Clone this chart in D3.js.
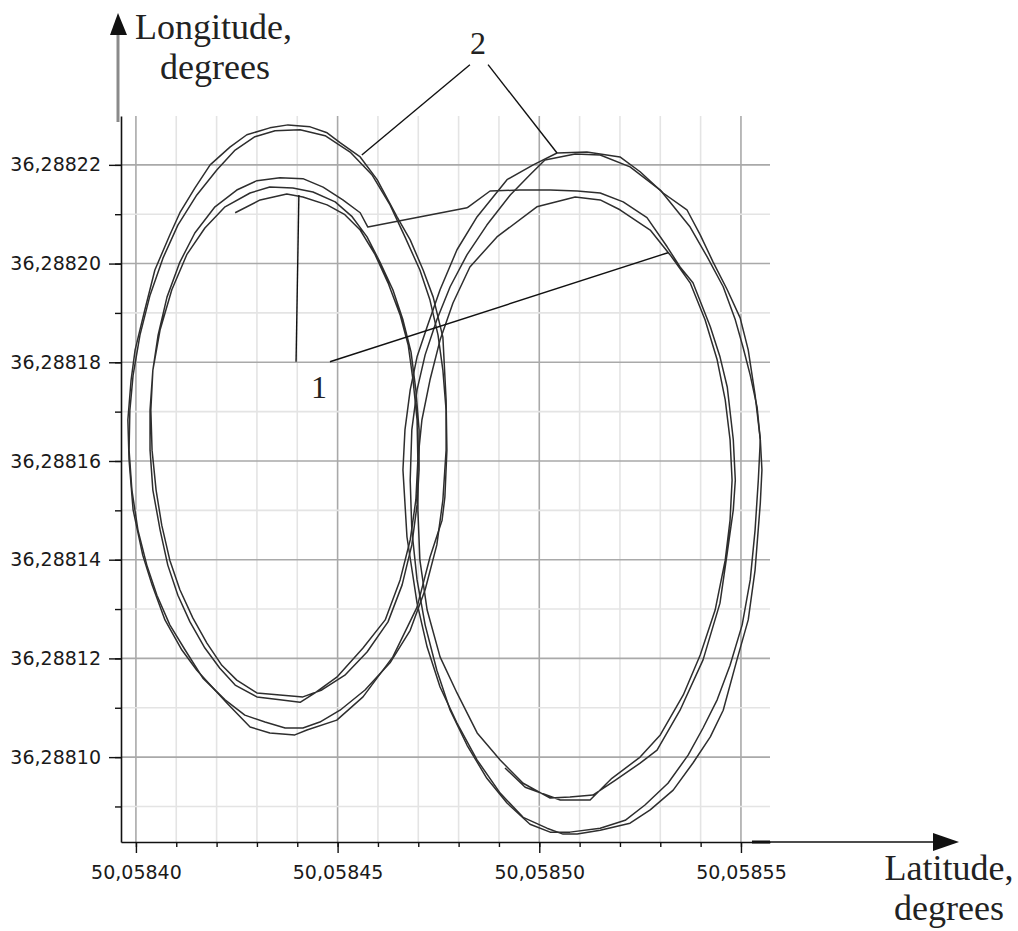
<!DOCTYPE html>
<html>
<head>
<meta charset="utf-8">
<script src="https://cdn.jsdelivr.net/npm/d3@7"></script>
<style>
  body { margin: 0; background: #fff; }
  svg { display: block; }
  .tick text { font-family: "DejaVu Sans", sans-serif; font-size: 19px; fill: #1a1a1a; }
  .serif { font-family: "Liberation Serif", "Times New Roman", serif; fill: #222; }
</style>
</head>
<body>
<svg id="chart" width="1018" height="931"></svg>
<script>
// Flight tracks.
// Each point is [latitude, longitude] in micro-degrees relative to the base below.
const LAT0 = 50.0584, LON0 = 36.2881;

// left circle, outer passes (label 2)
const leftOuterA = [[33.2,127.5],[37.7,128.1],[43.2,127.7],[47.4,126.5],[50.6,124.5],[55.6,121.6],[59.8,117.0],[64.7,109.5],[68.0,104.8],[71.2,98.7],[73.7,93.2],[76.1,85.1],[76.9,72.4],[77.1,62.2],[76.6,52.7],[75.9,48.0],[72.9,40.5],[69.7,30.4],[63.7,20.3],[56.3,12.2],[49.8,7.5],[42.4,5.5],[39.4,4.5],[33.2,4.9],[28.3,6.1],[22.6,10.9],[15.1,17.6],[11.4,21.7],[7.2,27.8],[4.0,34.9],[1.7,40.9],[-0.7,50.1],[-1.7,60.2],[-2.0,68.3],[-1.2,76.4],[-0.2,82.5],[2.2,90.6],[4.7,98.7],[8.4,105.8],[10.9,110.3],[14.6,115.3],[18.4,120.0],[23.3,123.6],[27.5,126.1]];
const leftOuterB = [[29.5,125.7],[34.5,126.9],[40.7,127.1],[46.9,125.9],[53.1,122.6],[58.5,118.0],[63.0,111.9],[66.7,105.4],[70.4,98.7],[72.9,92.6],[74.9,85.5],[76.1,78.4],[76.9,70.3],[76.9,62.2],[76.1,52.1],[74.6,43.0],[71.7,33.9],[68.0,25.7],[63.0,19.1],[56.8,13.6],[50.6,9.5],[45.6,7.1],[41.4,5.9],[37.0,5.9],[32.0,7.1],[27.0,8.5],[22.1,11.6],[16.6,16.0],[12.2,21.7],[8.4,26.8],[5.2,32.8],[2.7,38.9],[0.5,46.0],[-1.0,54.1],[-1.7,62.2],[-1.5,70.3],[-0.7,77.4],[1.0,85.5],[3.5,93.6],[6.7,101.1],[10.4,107.8],[15.1,113.9],[20.1,119.0],[24.6,123.0]];

// left circle, inner passes (label 1), then the run across to the right circle
const leftInner = [[24.6,110.3],[30.8,112.9],[37.4,114.1],[41.4,113.5],[47.4,111.9],[51.8,109.9],[55.6,106.8],[59.3,101.8],[62.5,96.1],[65.5,89.6],[67.5,83.5],[68.7,76.4],[69.7,68.3],[69.9,60.2],[69.4,52.1],[68.0,44.0],[65.5,35.9],[61.8,27.8],[56.3,22.1],[49.8,16.2],[44.4,13.0],[40.7,11.1],[35.7,11.6],[30.0,12.2],[24.6,14.6],[20.8,18.0],[17.1,22.1],[13.4,27.4],[10.4,32.8],[7.9,38.9],[6.0,46.0],[4.2,54.1],[3.5,62.2],[3.5,70.3],[4.2,78.4],[6.0,86.6],[8.9,94.7],[12.6,101.8],[17.1,107.2],[22.1,111.5],[28.3,114.3],[33.2,115.5],
  [38.9,115.3],[43.9,114.5],[49.4,112.5],[53.6,109.5],[57.3,105.4],[60.5,100.3],[63.7,94.7],[66.2,88.6],[68.2,82.1],[69.4,74.4],[70.2,66.3],[70.2,58.2],[69.7,51.1],[68.4,43.0],[66.0,34.9],[62.5,27.4],[57.3,21.3],[51.8,16.6],[46.1,13.6],[41.4,12.2],[35.7,12.6],[30.0,13.0],[25.0,15.6],[21.3,18.6],[17.6,23.1],[14.1,28.2],[10.9,33.9],[8.4,39.9],[6.4,47.0],[5.0,54.1],[4.0,62.2],[3.7,70.3],[4.2,78.4],[5.5,85.5],[7.7,93.2],[10.9,100.3],[14.6,106.2],[19.6,111.5],[25.0,114.9],[30.0,116.8],
  [35.7,117.4],[41.4,117.2],[46.4,115.5],[51.3,112.9],[55.6,110.3],[57.5,107.4],[82.1,111.3]];

// right circle, inner passes (label 1)
const rightInner = [[82.1,111.3],[87.8,114.7],[95.2,114.9],[102.7,114.9],[109.4,114.7],[115.1,114.3],[120.8,112.5],[126.7,109.3],[131.7,103.4],[134.9,99.3],[138.1,96.1],[142.4,87.2],[144.8,81.1],[146.6,75.0],[148.1,64.3],[148.6,56.1],[148.1,50.1],[146.6,41.4],[144.8,31.2],[140.6,19.7],[134.9,9.5],[129.2,1.4],[125.0,-1.2],[118.8,-4.7],[113.3,-7.7],[107.6,-8.1],[102.7,-8.3],[96.0,-5.3],[90.3,-0.6],[84.6,4.9],[79.6,13.0],[75.4,20.3],[72.2,29.8],[70.4,39.9],[69.9,50.1],[69.9,60.2],[70.9,68.3],[72.9,76.4],[75.4,84.5],[78.6,92.0],[82.8,99.3],[89.5,105.4],[99.4,111.5],[108.9,113.5],[115.1,112.9],[120.0,110.9],[127.5,106.8],[132.4,101.8],[137.4,96.1],[141.1,88.6],[144.1,80.5],[146.1,72.4],[147.3,64.3],[147.8,56.1],[147.3,48.0],[146.1,39.9],[143.6,29.8],[139.9,20.7],[135.7,12.6],[130.0,4.5],[125.0,0.0],[118.0,-4.3],[112.6,-8.7],[105.2,-8.7],[96.5,-6.1],[91.5,-2.2]];

// right circle, outer passes (label 2)
const rightOuterA = [[104.4,122.4],[111.8,122.6],[120.0,121.6],[125.0,118.6],[130.7,114.3],[136.6,110.9],[139.9,105.8],[143.1,100.3],[146.6,94.7],[149.8,89.0],[151.8,82.5],[153.5,73.4],[154.8,64.3],[155.2,58.2],[154.8,51.5],[153.5,37.9],[151.8,27.8],[149.0,19.7],[145.6,9.5],[142.4,4.1],[138.1,-1.2],[133.2,-6.7],[127.5,-10.7],[122.5,-13.4],[115.1,-14.8],[109.4,-15.6],[105.9,-15.6],[101.9,-14.4],[96.0,-12.2],[90.3,-7.3],[84.6,-0.6],[79.6,6.9],[75.4,14.2],[72.2,22.3],[69.7,31.2],[67.2,44.6],[66.2,58.2],[66.7,66.3],[68.0,74.4],[69.7,81.1],[72.2,87.2],[75.4,94.7],[79.6,102.8],[84.6,109.5],[92.0,117.0],[98.5,120.0]];
const rightOuterB = [[101.4,121.0],[108.9,122.2],[115.1,122.0],[122.5,119.6],[130.0,114.9],[137.4,107.4],[141.6,101.4],[145.6,95.3],[148.6,88.6],[150.5,83.1],[152.3,77.4],[154.0,70.9],[154.8,64.3],[154.3,56.1],[153.5,46.0],[152.3,35.9],[150.3,26.8],[147.3,18.6],[144.1,11.6],[140.6,5.9],[136.9,0.4],[131.9,-5.3],[126.2,-9.7],[121.3,-12.8],[115.1,-14.4],[107.6,-15.2],[102.7,-15.2],[97.7,-13.6],[92.0,-9.3],[87.0,-4.3],[82.1,2.4],[77.9,9.5],[74.6,17.6],[71.7,26.8],[69.7,35.9],[68.4,46.0],[68.0,56.1],[68.4,66.3],[69.7,74.4],[71.7,81.5],[74.6,88.6],[77.9,95.3],[82.1,101.8],[87.0,107.8],[92.8,113.9],[97.7,118.0]];

const tracks = [
  { pts: leftOuterA, closed: true },
  { pts: leftOuterB, closed: true },
  { pts: leftInner, closed: false },
  { pts: rightInner, closed: false },
  { pts: rightOuterA, closed: true },
  { pts: rightOuterB, closed: true }
];

// axis ticks
const xTicks = [50.05840, 50.05845, 50.05850, 50.05855];
const xMinorTicks = d3.range(0, 16).map(i => LAT0 + i * 1e-5);
const yTicks = [36.28810, 36.28812, 36.28814, 36.28816, 36.28818, 36.28820, 36.28822];
const yMinorTicks = d3.range(-1, 13).map(i => LON0 + i * 1e-5);

// callout leaders: [from, to] in the same micro-degree units
const leaders = [
  [[82.8,140.3],[56.0,122.0]],
  [[87.3,140.3],[104.4,122.4]],
  [[39.7,80.1],[40.4,113.9]],
  [[48.1,80.1],[131.9,102.2]]
];
const callouts = [
  { text: '2', at: [84.8,142.5] },
  { text: '1', at: [45.4,72.8] }
];

const svg = d3.select('#chart');
const x = d3.scaleLinear().domain([50.0583963, 50.0585572]).range([121, 770]);
const y = d3.scaleLinear().domain([36.2880828, 36.2882299]).range([842, 116]);
const px = d => x(LAT0 + d[0] * 1e-6);
const py = d => y(LON0 + d[1] * 1e-6);

const comma = v => d3.format('.5f')(v).replace('.', ',');
const isMajor = (v, list) => list.some(t => Math.abs(t - v) < 1e-9);

// grid
const grid = svg.append('g');
grid.selectAll('.vg').data(xMinorTicks).enter().append('line')
  .attr('x1', d => x(d)).attr('x2', d => x(d))
  .attr('y1', 116).attr('y2', 842)
  .attr('stroke', d => isMajor(d, xTicks) ? '#a9a9a9' : '#e4e4e4')
  .attr('stroke-width', 1.6);
grid.selectAll('.hg').data(yMinorTicks).enter().append('line')
  .attr('x1', 121).attr('x2', 770)
  .attr('y1', d => y(d)).attr('y2', d => y(d))
  .attr('stroke', d => isMajor(d, yTicks) ? '#a9a9a9' : '#e4e4e4')
  .attr('stroke-width', 1.6);

// tracks
const line = d3.line().x(px).y(py);
const lineClosed = d3.line().x(px).y(py).curve(d3.curveLinearClosed);
svg.append('g').selectAll('path').data(tracks).enter().append('path')
  .attr('d', t => (t.closed ? lineClosed : line)(t.pts))
  .attr('fill', 'none')
  .attr('stroke', '#2e2e2e')
  .attr('stroke-width', 1.5)
  .attr('stroke-linejoin', 'round');

// axes
const xAxis = svg.append('g').attr('transform', 'translate(0,842)');
xAxis.call(d3.axisBottom(x).tickValues(xMinorTicks).tickSize(5).tickSizeOuter(0).tickFormat(''));
xAxis.append('g').call(d3.axisBottom(x).tickValues(xTicks).tickSize(11).tickSizeOuter(0).tickFormat(comma))
  .call(g => g.select('.domain').remove())
  .selectAll('text').attr('dy', 0).attr('y', 37);

const yAxis = svg.append('g').attr('transform', 'translate(121,0)');
yAxis.call(d3.axisLeft(y).tickValues(yMinorTicks).tickSize(6).tickSizeOuter(0).tickFormat(''));
yAxis.append('g').call(d3.axisLeft(y).tickValues(yTicks).tickSize(12).tickSizeOuter(0).tickFormat(comma))
  .call(g => g.select('.domain').remove())
  .selectAll('text').attr('x', -20);

svg.selectAll('.domain').attr('stroke', '#111').attr('stroke-width', 1.6);
svg.selectAll('.tick line').attr('stroke', '#111').attr('stroke-width', 1.4);

// axis arrows
svg.append('line').attr('x1', 118).attr('x2', 118).attr('y1', 122).attr('y2', 32)
  .attr('stroke', '#8a8a8a').attr('stroke-width', 3);
svg.append('path').attr('d', 'M110,35 L118,13 L127,35 Z').attr('fill', '#111');
svg.append('line').attr('x1', 752).attr('x2', 770).attr('y1', 842).attr('y2', 842)
  .attr('stroke', '#111').attr('stroke-width', 3);
svg.append('line').attr('x1', 770).attr('x2', 935).attr('y1', 842).attr('y2', 842)
  .attr('stroke', '#111').attr('stroke-width', 1.6);
svg.append('path').attr('d', 'M933,833 L959,842 L933,851 Z').attr('fill', '#111');

// axis titles
svg.append('text').attr('class', 'serif').attr('x', 135).attr('y', 39)
  .style('font-size', '36px').text('Longitude,');
svg.append('text').attr('class', 'serif').attr('x', 215).attr('y', 79)
  .attr('text-anchor', 'middle').style('font-size', '36px').text('degrees');
svg.append('text').attr('class', 'serif').attr('x', 949).attr('y', 880)
  .attr('text-anchor', 'middle').style('font-size', '36px').text('Latitude,');
svg.append('text').attr('class', 'serif').attr('x', 949).attr('y', 920)
  .attr('text-anchor', 'middle').style('font-size', '36px').text('degrees');

// callouts
svg.append('g').selectAll('line').data(leaders).enter().append('line')
  .attr('x1', d => px(d[0])).attr('y1', d => py(d[0]))
  .attr('x2', d => px(d[1])).attr('y2', d => py(d[1]))
  .attr('stroke', '#111').attr('stroke-width', 1.4);
svg.append('g').selectAll('text').data(callouts).enter().append('text')
  .attr('class', 'serif')
  .attr('x', d => px(d.at)).attr('y', d => py(d.at))
  .attr('text-anchor', 'middle').style('font-size', '32px')
  .text(d => d.text);
</script>
</body>
</html>
